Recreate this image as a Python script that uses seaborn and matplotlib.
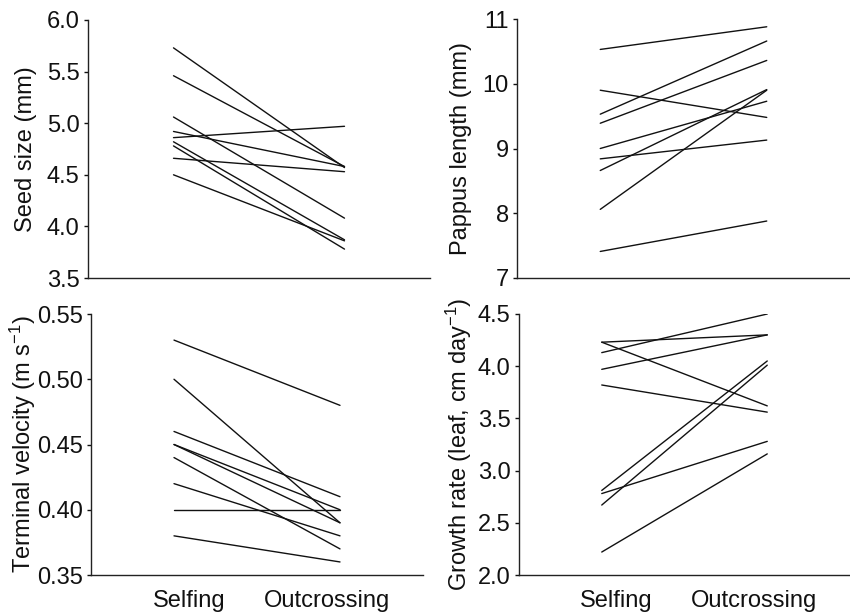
import numpy as np
import pandas as pd
import matplotlib
matplotlib.use("Agg")
import matplotlib.pyplot as plt
import seaborn as sns

sns.set_theme(style="ticks")
plt.rcParams['font.family'] = ['Liberation Sans', 'DejaVu Sans']
plt.rcParams['mathtext.fontset'] = 'custom'
plt.rcParams['mathtext.rm'] = 'Liberation Sans'
plt.rcParams['mathtext.default'] = 'regular'

# ---- data (one line per family: selfing -> outcrossing) ----
groups = ["Selfing", "Outcrossing"]

seed_self = [5.73, 5.46, 5.06, 4.92, 4.86, 4.82, 4.78, 4.66, 4.50]
seed_out = [4.57, 4.58, 4.08, 4.58, 4.97, 3.87, 3.78, 4.53, 3.86]

pappus_self = [10.53, 9.53, 9.39, 9.90, 9.00, 8.84, 8.66, 8.06, 7.41]
pappus_out = [10.88, 10.66, 10.36, 9.48, 9.73, 9.13, 9.91, 9.90, 7.88]

velocity_self = [0.53, 0.50, 0.46, 0.45, 0.45, 0.44, 0.42, 0.40, 0.38]
velocity_out = [0.48, 0.39, 0.41, 0.40, 0.39, 0.37, 0.38, 0.40, 0.36]

growth_self = [4.23, 4.23, 4.13, 3.97, 3.82, 2.81, 2.78, 2.67, 2.22]
growth_out = [4.30, 3.62, 4.50, 4.30, 3.56, 4.05, 3.28, 4.01, 3.16]

panels = [
    ("Seed size (mm)", seed_self, seed_out, (3.5, 6.0), np.arange(3.5, 6.01, 0.5), "{:.1f}"),
    ("Pappus length (mm)", pappus_self, pappus_out, (7, 11), np.arange(7, 11.1, 1), "{:.0f}"),
    ("Terminal velocity (m s$^{-1}$)", velocity_self, velocity_out, (0.35, 0.55),
     np.arange(0.35, 0.551, 0.05), "{:.2f}"),
    ("Growth rate (leaf, cm day$^{-1}$)", growth_self, growth_out, (2.0, 4.5),
     np.arange(2.0, 4.51, 0.5), "{:.1f}"),
]

# axes rectangles in pixels (left, top, right, bottom) on an 850x615 canvas
W, H = 850, 615
boxes = [(88, 20, 430, 278), (517, 19, 850, 278), (91, 314, 423, 575), (519, 314, 850, 575)]
label_x = [-0.150, -0.134, -0.160, -0.135]
FS = 17

fig = plt.figure(figsize=(8.5, 6.15), dpi=100)

for i, (ylab, s, o, ylim, yt, fmt) in enumerate(panels):
    l, t, r, b = boxes[i]
    ax = fig.add_axes([l / W, 1 - b / H, (r - l) / W, (b - t) / H])
    n = len(s)
    df = pd.DataFrame({
        "id": list(range(n)) * 2,
        "x": [0] * n + [1] * n,
        "value": s + o,
    })
    sns.lineplot(data=df, x="x", y="value", units="id", estimator=None,
                 color="#111111", lw=1.0, ax=ax, legend=False)
    ax.set_xlim(-0.5, 1.5)
    ax.set_ylim(*ylim)
    ax.set_yticks(yt)
    ax.set_yticklabels([fmt.format(v) for v in yt])
    sns.despine(ax=ax)
    for sp in ["left", "bottom"]:
        ax.spines[sp].set_linewidth(1.0)
        ax.spines[sp].set_color("#222222")
    ax.tick_params(axis="y", length=3, width=1, pad=3, labelsize=FS, colors="#111111")
    if i >= 2:
        ax.set_xticks([0.09, 0.92])
        ax.set_xticklabels(groups)
        ax.tick_params(axis="x", length=0, pad=11, labelsize=FS, colors="#111111")
    else:
        ax.set_xticks([])
    ax.set_xlabel("")
    ax.set_ylabel(ylab, fontsize=FS, color="#111111")
    ax.yaxis.set_label_coords(label_x[i], 0.5)

fig.savefig("out.png", dpi=100)
